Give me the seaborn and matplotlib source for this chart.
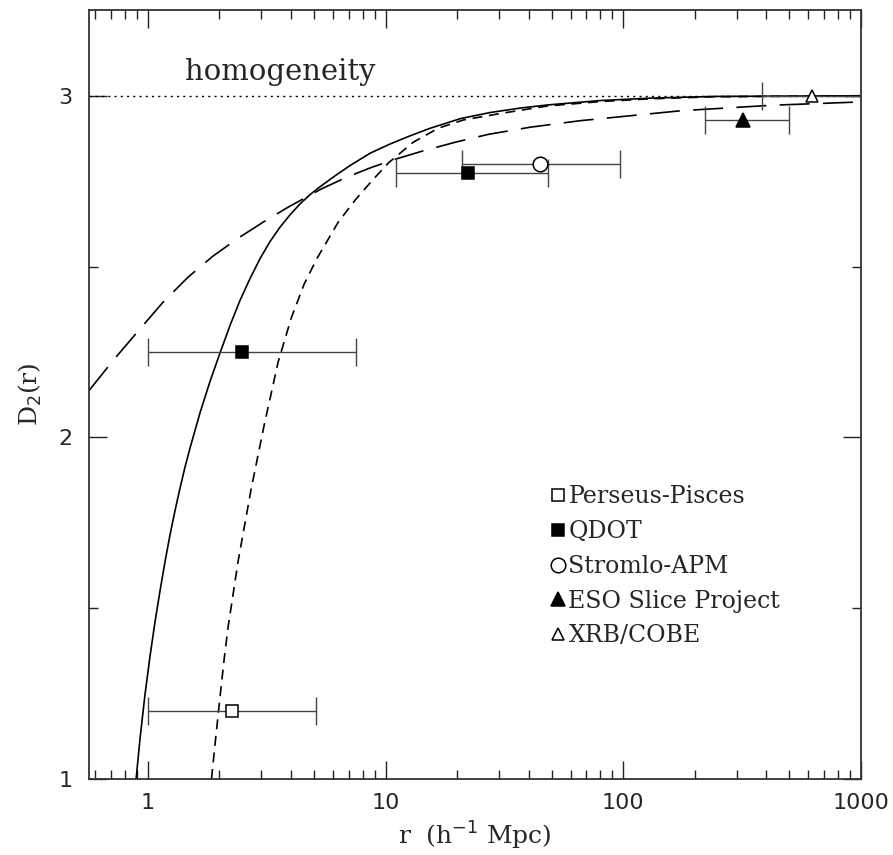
import numpy as np
import matplotlib
matplotlib.use("Agg")
import matplotlib.pyplot as plt
from matplotlib.lines import Line2D
from matplotlib.ticker import LogLocator, MultipleLocator, FixedLocator, FixedFormatter
import seaborn as sns

# model curves
solid_r = [0.893, 0.928, 0.974, 1.022, 1.073, 1.127, 1.183, 1.241, 1.303, 1.368, 1.435, 1.507,
           1.660, 1.829, 2.015, 2.221, 2.446, 2.696, 2.970, 3.271, 3.605, 3.972, 4.375, 4.822,
           5.312, 6.142, 7.102, 8.623, 10.47, 12.71, 15.43, 20.63, 27.59, 36.90, 47.93, 80.1,
           130.0, 239.4, 1000]
solid_d = [1.0, 1.120, 1.249, 1.360, 1.461, 1.553, 1.638, 1.716, 1.787, 1.853, 1.914, 1.970,
           2.073, 2.165, 2.248, 2.329, 2.402, 2.466, 2.524, 2.574, 2.616, 2.652, 2.684, 2.711,
           2.734, 2.766, 2.796, 2.832, 2.859, 2.883, 2.905, 2.933, 2.951, 2.964, 2.973, 2.986,
           2.993, 2.998, 3.0]

short_r = [1.853, 1.920, 2.015, 2.095, 2.178, 2.399, 2.721, 3.087, 3.535, 4.010, 4.548, 5.159,
           6.324, 7.458, 8.790, 10.27, 13.08, 16.67, 21.23, 30.39, 47.93, 80.1, 130.0, 239.4, 1000]
short_d = [1.0, 1.105, 1.243, 1.351, 1.446, 1.638, 1.849, 2.036, 2.221, 2.349, 2.449, 2.525,
           2.630, 2.695, 2.752, 2.803, 2.864, 2.905, 2.929, 2.948, 2.970, 2.983, 2.991, 2.997, 3.0]

long_r = [0.566, 0.7145, 0.9103, 1.160, 1.477, 1.883, 2.399, 3.057, 3.895, 5.363, 6.833, 8.708,
          11.09, 14.13, 19.65, 27.06, 40.64, 65.98, 173.9, 416, 1000]
long_d = [2.137, 2.225, 2.311, 2.396, 2.469, 2.531, 2.583, 2.630, 2.674, 2.727, 2.761, 2.790,
          2.815, 2.837, 2.864, 2.887, 2.908, 2.927, 2.956, 2.972, 2.982]

# survey measurements: name, r, D2, r_lo, r_hi
surveys = ["Perseus-Pisces", "QDOT", "QDOT", "Stromlo-APM", "ESO Slice Project", "XRB/COBE"]
pts_r = [2.25, 2.5, 22.2, 44.6, 318, 621]
pts_d = [1.2, 2.25, 2.775, 2.80, 2.93, 3.0]
pts_lo = [1.0, 1.0, 11.1, 21.0, 220, 383]
pts_hi = [5.1, 7.5, 48.0, 97.0, 497, 1000]

legend_names = ["Perseus-Pisces", "QDOT", "Stromlo-APM", "ESO Slice Project", "XRB/COBE"]
marker_style = {
    "Perseus-Pisces": dict(marker="s", mfc="white", ms=8),
    "QDOT": dict(marker="s", mfc="black", ms=8.5),
    "Stromlo-APM": dict(marker="o", mfc="white", ms=10.5),
    "ESO Slice Project": dict(marker="^", mfc="black", ms=9.5),
    "XRB/COBE": dict(marker="^", mfc="white", ms=9),
}

sns.set_style("ticks")
serif = ["DejaVu Serif"]

fig = plt.figure(figsize=(8.93, 8.55), dpi=100)
ax = fig.add_axes([0.0997, 0.0889, 0.8645, 0.8994])

sns.lineplot(x=solid_r, y=solid_d, ax=ax, color="black", lw=1.2, sort=False)
sns.lineplot(x=short_r, y=short_d, ax=ax, color="black", lw=1.2, sort=False,
             linestyle=(0, (6, 4)))
sns.lineplot(x=long_r, y=long_d, ax=ax, color="black", lw=1.2, sort=False,
             linestyle=(0, (18, 8)))

ax.axhline(3.0, color="black", lw=1.0, linestyle=(0, (1.5, 3)))

for name, r, d, lo, hi in zip(surveys, pts_r, pts_d, pts_lo, pts_hi):
    ax.errorbar([r], [d], xerr=[[r - lo], [hi - r]], fmt="none", ecolor="#444444",
                elinewidth=1.0, capsize=10, capthick=1.0, zorder=3)
    st = marker_style[name]
    ax.plot([r], [d], linestyle="none", marker=st["marker"], mfc=st["mfc"],
            mec="black", mew=1.1, ms=st["ms"], zorder=4)

ax.set_xscale("log")
ax.set_xlim(0.566, 1000)
ax.set_ylim(1.0, 3.251)

ax.xaxis.set_major_locator(FixedLocator([1, 10, 100, 1000]))
ax.xaxis.set_major_formatter(FixedFormatter(["1", "10", "100", "1000"]))
ax.xaxis.set_minor_locator(LogLocator(base=10, subs=np.arange(2, 10), numticks=20))
ax.xaxis.set_minor_formatter(plt.NullFormatter())
ax.yaxis.set_major_locator(FixedLocator([1, 2, 3]))
ax.yaxis.set_minor_locator(MultipleLocator(0.5))

ax.tick_params(which="both", direction="in", top=True, right=True, color="#222222")
ax.tick_params(which="major", length=13, width=1.0, labelsize=16, pad=10)
ax.tick_params(which="minor", length=6.5, width=1.0)
ax.tick_params(axis="y", pad=12)
for sp in ax.spines.values():
    sp.set_linewidth(1.3)
    sp.set_color("#333333")

ax.set_xlabel(r"r  (h$^{-1}$ Mpc)", family=serif, fontsize=18, labelpad=5)
ax.set_ylabel(r"D$_2$(r)", family=serif, fontsize=18, labelpad=10)

ax.text(1.436, 3.046, "homogeneity", family=serif, fontsize=21, va="baseline")

handles = []
for name in legend_names:
    st = marker_style[name]
    handles.append(Line2D([], [], linestyle="none", marker=st["marker"], mfc=st["mfc"],
                          mec="black", mew=1.1, ms=st["ms"]))
ax.legend(handles, legend_names, loc="upper left", bbox_to_anchor=(0.598, 0.382),
          frameon=False, prop={"family": serif, "size": 17}, handlelength=0.6,
          handletextpad=0.15, labelspacing=0.5, borderpad=0, borderaxespad=0)

fig.savefig("out.png", dpi=100)
